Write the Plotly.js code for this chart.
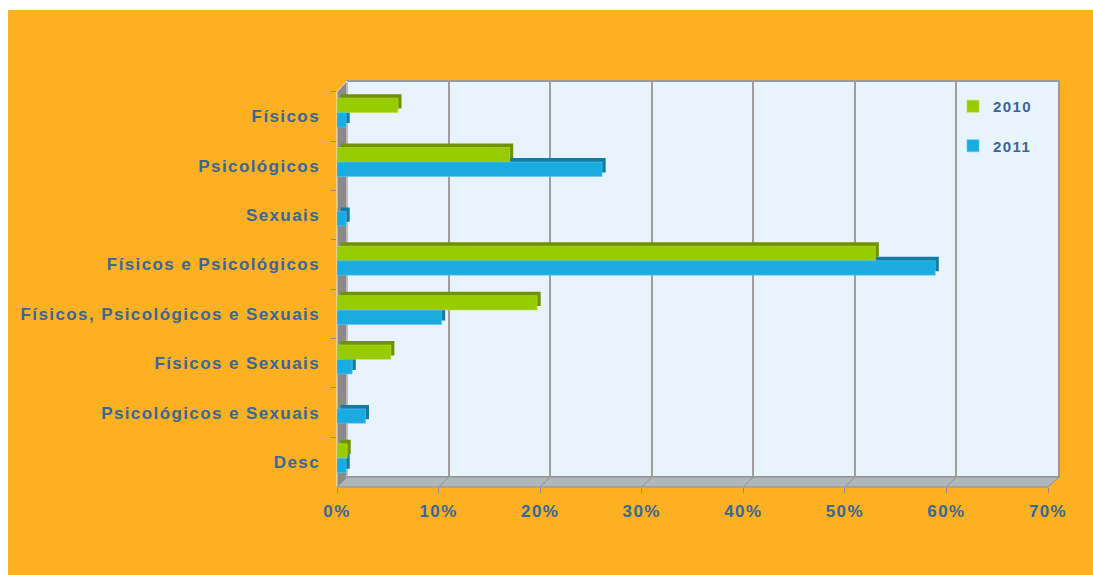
<!DOCTYPE html>
<html>
<head>
<meta charset="utf-8">
<script src="https://cdn.plot.ly/plotly-3.0.1.min.js"></script>
<style>
  html, body { margin: 0; padding: 0; background: #ffffff; }
  #chart { width: 1093px; height: 575px; }
  #chart text { letter-spacing: 1.4px; }
</style>
</head>
<body>
<div id="chart"></div>
<script>
// ---- data ----
const categories = [
  "Físicos",
  "Psicológicos",
  "Sexuais",
  "Físicos e Psicológicos",
  "Físicos, Psicológicos e Sexuais",
  "Físicos e Sexuais",
  "Psicológicos e Sexuais",
  "Desc"
];
const values2010 = [6.0, 17.0, 0, 53.0, 19.7, 5.3, 0, 1.0];
const values2011 = [0.9, 26.1, 0.9, 58.9, 10.3, 1.5, 2.8, 0.9];
const seriesNames = ["2010", "2011"];
const xTickVals = [0, 10, 20, 30, 40, 50, 60, 70];

// ---- styling helpers ----
const W = 1093, H = 575;
const px = x => x / W;
const py = y => 1 - y / H;

const GREEN = "#99CC00", GREEN_D = "#6F9300";
const BLUE = "#1AACE0", BLUE_D = "#137BA6";
const TXT = "#3A6698";
const FONT = "Liberation Sans, Arial, sans-serif";

// bar geometry (category units / percent units)
const barW = 0.29;
const offG = -0.369, offB = -0.075;
const depthY = 0.08;   // ~4px up
const depthX = 0.35;   // ~3.5px right

function shadow(vals, off, color) {
  return {
    type: "bar", orientation: "h",
    x: vals, y: categories,
    base: vals.map(() => depthX),
    width: barW, offset: off - depthY,
    marker: { color: color, line: { width: 0 } },
    xaxis: "x2", yaxis: "y2",
    showlegend: false, hoverinfo: "skip"
  };
}
function main(vals, off, color, lineColor, name) {
  return {
    type: "bar", orientation: "h", name: name,
    x: vals, y: categories,
    width: barW, offset: off,
    marker: { color: color, line: { width: 0.6, color: lineColor } },
    xaxis: "x2", yaxis: "y2",
    legendgroup: name
  };
}

const traces = [
  // empty trace so the back-plane grid subplot is built
  { type: "scatter", x: [], y: [], xaxis: "x", yaxis: "y", showlegend: false, hoverinfo: "skip" },
  shadow(values2010, offG, GREEN_D),
  shadow(values2011, offB, BLUE_D),
  main(values2010, offG, GREEN, "#B8E040", seriesNames[0]),
  main(values2011, offB, BLUE, "#5CC8EE", seriesNames[1])
];

function path(pts) {
  return "M " + pts.map(p => px(p[0]) + "," + py(p[1])).join(" L ") + " Z";
}

const shapes = [
  // orange panel
  { type: "rect", xref: "paper", yref: "paper", x0: px(8), x1: 1, y0: 0, y1: py(10),
    fillcolor: "#FDB022", line: { width: 0 }, layer: "below" },
  // back wall
  { type: "rect", xref: "paper", yref: "paper", x0: px(347), x1: px(1059), y0: py(477), y1: py(81),
    fillcolor: "#E8F4FC", line: { color: "#9A9A9A", width: 2 }, layer: "below" },
  // left wall
  { type: "path", xref: "paper", yref: "paper",
    path: path([[337, 91.7], [347, 81], [347, 477], [337, 487]]),
    fillcolor: "#8A8A8A", line: { color: "#E6E6E6", width: 1 }, layer: "below" },
  // floor
  { type: "path", xref: "paper", yref: "paper",
    path: path([[337, 487], [347, 477], [1059, 477], [1048, 487]]),
    fillcolor: "#AEB6BE", line: { color: "#8E8E8E", width: 1 }, layer: "below" }
];
// slanted floor grid lines at each tick
xTickVals.slice(1, -1).forEach(v => {
  shapes.push({
    type: "line", xref: "x2", yref: "paper",
    xsizemode: "pixel", xanchor: v, x0: 0, x1: 10,
    ysizemode: "pixel", yanchor: py(487), y0: 0, y1: 10,
    line: { color: "#8E8E8E", width: 1 }, layer: "below"
  });
});

const layout = {
  width: W, height: H,
  margin: { l: 0, r: 0, t: 0, b: 0 },
  paper_bgcolor: "#ffffff",
  plot_bgcolor: "rgba(0,0,0,0)",
  barmode: "overlay",
  showlegend: true,
  // back-plane grid axes
  xaxis: {
    domain: [px(347), px(1058)], range: [0, 70], anchor: "y",
    tickvals: xTickVals, showgrid: true, gridcolor: "#9E9E9E", gridwidth: 2,
    showticklabels: false, ticks: "", zeroline: false, showline: false, fixedrange: true
  },
  yaxis: {
    domain: [py(477), py(81)], range: [0, 1], anchor: "x",
    showgrid: false, showticklabels: false, ticks: "", zeroline: false, showline: false, fixedrange: true
  },
  // front-plane bar axes
  xaxis2: {
    domain: [px(337), px(1048)], range: [0, 70], anchor: "y2",
    tickvals: xTickVals, ticktext: xTickVals.map(v => v + "%"),
    showgrid: false, zeroline: false, showline: false,
    ticks: "outside", ticklen: 5, tickcolor: "#8E8E8E", tickwidth: 1,
    tickfont: { family: FONT, size: 17, color: TXT, weight: "bold" },
    ticklabelstandoff: 4, fixedrange: true
  },
  yaxis2: {
    domain: [py(486.7), py(91.7)], anchor: "x2",
    type: "category", categoryorder: "array", categoryarray: categories,
    autorange: "reversed",
    tickson: "boundaries",
    showgrid: false, zeroline: false, showline: false,
    ticks: "outside", ticklen: 5, tickcolor: "#8E8E8E", tickwidth: 1,
    tickfont: { family: FONT, size: 17, color: TXT, weight: "bold" },
    ticklabelstandoff: 16, fixedrange: true
  },
  legend: {
    x: px(953), y: py(90), xanchor: "left", yanchor: "top",
    bgcolor: "rgba(0,0,0,0)", borderwidth: 0,
    font: { family: FONT, size: 15, color: TXT, weight: "bold" },
    tracegroupgap: 17, traceorder: "grouped"
  },
  shapes: shapes
};

Plotly.newPlot("chart", traces, layout, { displayModeBar: false, staticPlot: true });
</script>
</body>
</html>
